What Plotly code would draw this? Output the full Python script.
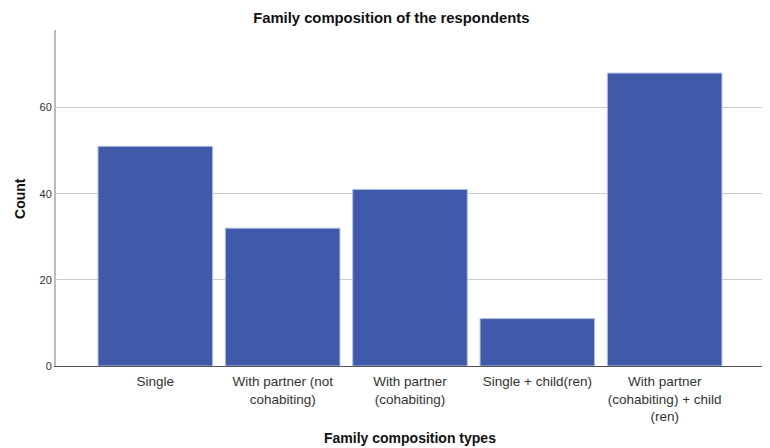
import plotly.graph_objects as go

categories = ["Single", "With partner (not<br>cohabiting)", "With partner<br>(cohabiting)",
              "Single + child(ren)", "With partner<br>(cohabiting) + child<br>(ren)"]
counts = [51, 32, 41, 11, 68]
y_ticks = [0, 20, 40, 60]

# page body has an 8px margin, so the figure is sized/offset to fill 770x448
fig = go.Figure(go.Bar(
    x=list(range(len(categories))), y=counts, width=0.9,
    marker=dict(color="#3f5aa9", line=dict(color="#b4c0e4", width=1)),
))
fig.update_layout(
    width=762, height=440,
    margin=dict(l=48, r=6, t=22, b=82),
    plot_bgcolor="white", paper_bgcolor="white",
    font=dict(family="Liberation Sans, Arial, sans-serif", color="#222"),
    title=dict(text="<b>Family composition of the respondents</b>", x=0.503, xref="container",
               y=1 - 10 / 440, yref="container", yanchor="middle", font=dict(size=14.8, color="#111")),
    showlegend=False, bargap=0.1,
    annotations=[
        dict(text="<b>Family composition types</b>", xref="paper", yref="paper",
             x=0.5, y=-0.214, yanchor="middle", showarrow=False,
             font=dict(size=14, color="#111")),
        dict(text="<b>Count</b>", xref="paper", yref="paper", x=-0.051, y=0.5,
             xanchor="center", yanchor="middle", textangle=-90, showarrow=False,
             font=dict(size=14, color="#111")),
    ],
)
fig.update_xaxes(
    range=[-0.78, 4.78], tickvals=list(range(len(categories))), ticktext=categories,
    showline=True, linecolor="#555", linewidth=1, ticks="outside", ticklen=3,
    tickcolor="rgba(0,0,0,0)", showgrid=False, automargin=False,
    tickfont=dict(size=13.5, color="#333"),
)
fig.update_yaxes(
    range=[0, 78], tickvals=y_ticks, showline=True, linecolor="#bbb", linewidth=2,
    showgrid=True, gridcolor="#cccccc", gridwidth=1, zeroline=False, ticks="",
    automargin=False, tickfont=dict(size=11, color="#333"),
)
fig.write_html("out.html")
